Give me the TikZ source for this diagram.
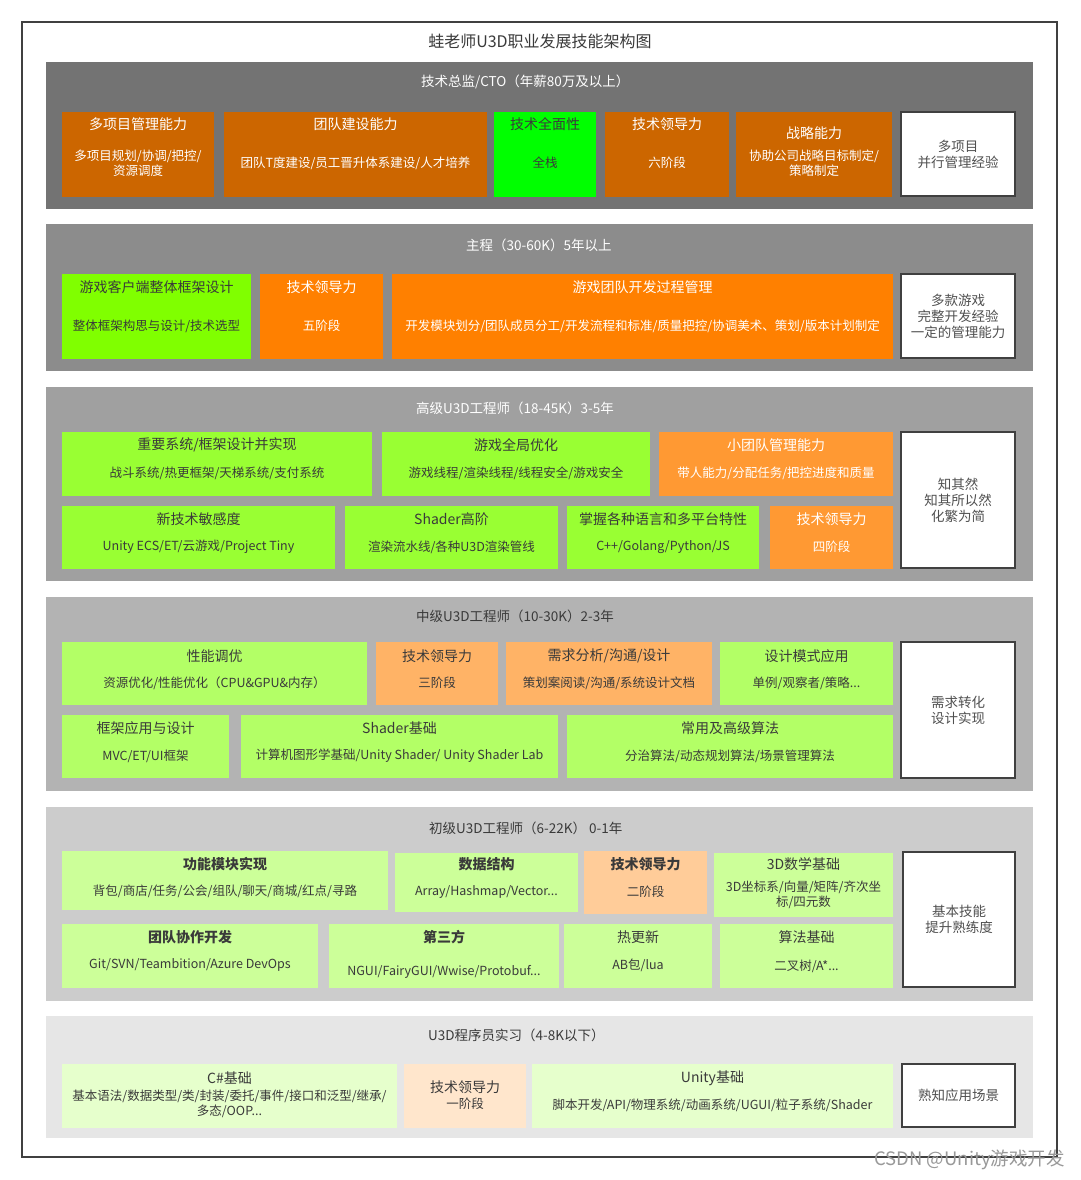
\documentclass[tikz,border=0pt]{standalone}
\usepackage{fontspec}
\setmainfont{Noto Sans CJK SC}
\usetikzlibrary{calc}
\definecolor{frm}{HTML}{404040}
\definecolor{dk}{HTML}{3A3A3A}
\definecolor{wtx}{HTML}{505050}
\definecolor{bandA}{HTML}{737373}
\definecolor{bandB}{HTML}{8C8C8C}
\definecolor{bandC}{HTML}{A0A0A0}
\definecolor{bandD}{HTML}{B3B3B3}
\definecolor{bandE}{HTML}{CCCCCC}
\definecolor{bandF}{HTML}{E6E6E6}
\definecolor{cBrown}{HTML}{CC6600}
\definecolor{cLime}{HTML}{00FF00}
\definecolor{cGreenB}{HTML}{80FF00}
\definecolor{cOrangeB}{HTML}{FF8000}
\definecolor{cGreenC}{HTML}{99FF33}
\definecolor{cOrangeC}{HTML}{FF9933}
\definecolor{cGreenD}{HTML}{B3FF66}
\definecolor{cOrangeD}{HTML}{FFB366}
\definecolor{cGreenE}{HTML}{CCFF99}
\definecolor{cOrangeE}{HTML}{FFCC99}
\definecolor{cGreenF}{HTML}{E6FFCC}
\definecolor{cOrangeF}{HTML}{FFE6CC}
\tikzset{
  bx/.style={rectangle, anchor=north west, inner sep=0pt, outer sep=0pt, draw=none},
  wbox/.style={rectangle, anchor=north west, inner sep=0pt, outer sep=0pt, fill=white, draw=frm, line width=1.5pt, align=center, text=wtx, font=\fontsize{13.5}{16}\selectfont},
  ttlw/.style={inner sep=0pt, align=center, text=white, font=\fontsize{14}{16}\selectfont},
  ttld/.style={inner sep=0pt, align=center, text=dk, font=\fontsize{14}{16}\selectfont},
  ttlb/.style={inner sep=0pt, align=center, text=dk, font=\bfseries\fontsize{14}{16}\selectfont},
  subw/.style={inner sep=0pt, align=center, text=white, font=\fontsize{12.5}{15}\selectfont},
  subd/.style={inner sep=0pt, align=center, text=dk, font=\fontsize{12.5}{15.5}\selectfont},
  tierw/.style={inner sep=0pt, anchor=west, text=white, font=\fontsize{13.5}{16}\selectfont},
  tierd/.style={inner sep=0pt, anchor=west, text=dk, font=\fontsize{13.5}{16}\selectfont},
}
\newcommand\skb[6]{\node[bx, fill=#6, minimum width={#4pt-#2pt}, minimum height={#5pt-#3pt}] (#1) at (#2,#3) {};}
\newcommand\skt[5]{\node[#4] (#1) at (#2.north |- 0,#3) {#5};}
\newcommand\skl[5]{\node[#4] (#1) at (#2,#3) {#5};}
\newcommand\skw[6]{\node[wbox, minimum width={#4pt-#2pt}, minimum height={#5pt-#3pt}] (#1) at (#2,#3) {#6};}
\begin{document}
\begin{tikzpicture}[x=1pt,y=-1pt]
\useasboundingbox (0,0) rectangle (1080,1180);
\fill[white] (0,0) rectangle (1080,1180);
\draw[frm, line width=1.6pt] (22,22) rectangle (1057,1157);
\node[inner sep=0pt, text=dk, font=\fontsize{16}{18}\selectfont] (title) at (540,41) {蛙老师U3D职业发展技能架构图};

% ---- Tier 1
\skb{t1}{46}{62}{1033}{209}{bandA}
\skl{t1l}{421}{82}{tierw}{技术总监/CTO（年薪80万及以上）}
\skb{a1}{62}{112}{214}{197}{cBrown}
\skt{a1t}{a1}{124}{ttlw}{多项目管理能力}
\skt{a1s}{a1}{163.5}{subw}{多项目规划/协调/把控/\\资源调度}
\skb{a2}{224}{112}{487}{197}{cBrown}
\skt{a2t}{a2}{124}{ttlw}{团队建设能力}
\skt{a2s}{a2}{163}{subw}{团队T度建设/员工晋升体系建设/人才培养}
\skb{a3}{494}{112}{596}{197}{cLime}
\skt{a3t}{a3}{124}{ttld}{技术全面性}
\skt{a3s}{a3}{163}{subd}{全栈}
\skb{a4}{605}{112}{729}{197}{cBrown}
\skt{a4t}{a4}{124}{ttlw}{技术领导力}
\skt{a4s}{a4}{163}{subw}{六阶段}
\skb{a5}{736}{112}{892}{197}{cBrown}
\skt{a5t}{a5}{133}{ttlw}{战略能力}
\skt{a5s}{a5}{163.5}{subw}{协助公司战略目标制定/\\策略制定}
\skw{w1}{901}{112}{1015}{196}{多项目\\并行管理经验}

% ---- Tier 2
\skb{t2}{46}{224}{1033}{371}{bandB}
\skl{t2l}{466}{245}{tierw}{主程（30-60K）5年以上}
\skb{b1}{62}{274}{251}{359}{cGreenB}
\skt{b1t}{b1}{287}{ttld}{游戏客户端整体框架设计}
\skt{b1s}{b1}{326}{subd}{整体框架构思与设计/技术选型}
\skb{b2}{260}{274}{383}{359}{cOrangeB}
\skt{b2t}{b2}{287}{ttlw}{技术领导力}
\skt{b2s}{b2}{326}{subw}{五阶段}
\skb{b3}{392}{274}{893}{359}{cOrangeB}
\skt{b3t}{b3}{287}{ttlw}{游戏团队开发过程管理}
\skt{b3s}{b3}{326}{subw}{开发模块划分/团队成员分工/开发流程和标准/质量把控/协调美术、策划/版本计划制定}
\skw{w2}{901}{274}{1015}{358}{多款游戏\\完整开发经验\\一定的管理能力}

% ---- Tier 3
\skb{t3}{46}{387}{1033}{581}{bandC}
\skl{t3l}{416}{408}{tierw}{高级U3D工程师（18-45K）3-5年}
\skb{c1}{62}{432}{372}{496}{cGreenC}
\skt{c1t}{c1}{445}{ttld}{重要系统/框架设计并实现}
\skt{c1s}{c1}{473}{subd}{战斗系统/热更框架/天梯系统/支付系统}
\skb{c2}{382}{432}{650}{496}{cGreenC}
\skt{c2t}{c2}{445}{ttld}{游戏全局优化}
\skt{c2s}{c2}{473}{subd}{游戏线程/渲染线程/线程安全/游戏安全}
\skb{c3}{659}{432}{893}{496}{cOrangeC}
\skt{c3t}{c3}{445}{ttlw}{小团队管理能力}
\skt{c3s}{c3}{473}{subw}{带人能力/分配任务/把控进度和质量}
\skb{c4}{62}{506}{335}{569}{cGreenC}
\skt{c4t}{c4}{519}{ttld}{新技术敏感度}
\skt{c4s}{c4}{547}{subd}{Unity ECS/ET/云游戏/Project Tiny}
\skb{c5}{345}{506}{558}{569}{cGreenC}
\skt{c5t}{c5}{519}{ttld}{Shader高阶}
\skt{c5s}{c5}{547}{subd}{渲染流水线/各种U3D渲染管线}
\skb{c6}{567}{506}{759}{569}{cGreenC}
\skt{c6t}{c6}{519}{ttld}{掌握各种语言和多平台特性}
\skt{c6s}{c6}{547}{subd}{C++/Golang/Python/JS}
\skb{c7}{770}{506}{893}{569}{cOrangeC}
\skt{c7t}{c7}{519}{ttlw}{技术领导力}
\skt{c7s}{c7}{547}{subw}{四阶段}
\skw{w3}{901}{432}{1015}{568}{知其然\\知其所以然\\化繁为简}

% ---- Tier 4
\skb{t4}{46}{597}{1033}{791}{bandD}
\skl{t4l}{416}{616}{tierd}{中级U3D工程师（10-30K）2-3年}
\skb{d1}{62}{642}{367}{705}{cGreenD}
\skt{d1t}{d1}{656}{ttld}{性能调优}
\skt{d1s}{d1}{683}{subd}{资源优化/性能优化（CPU\&GPU\&内存）}
\skb{d2}{376}{642}{498}{705}{cOrangeD}
\skt{d2t}{d2}{656}{ttld}{技术领导力}
\skt{d2s}{d2}{683}{subd}{三阶段}
\skb{d3}{506}{642}{712}{705}{cOrangeD}
\skt{d3t}{d3}{656}{ttld}{需求分析/沟通/设计}
\skt{d3s}{d3}{683}{subd}{策划案阅读/沟通/系统设计文档}
\skb{d4}{720}{642}{893}{705}{cGreenD}
\skt{d4t}{d4}{656}{ttld}{设计模式应用}
\skt{d4s}{d4}{683}{subd}{单例/观察者/策略...}
\skb{d5}{62}{715}{229}{778}{cGreenD}
\skt{d5t}{d5}{728}{ttld}{框架应用与设计}
\skt{d5s}{d5}{756}{subd}{MVC/ET/UI框架}
\skb{d6}{241}{715}{558}{778}{cGreenD}
\skt{d6t}{d6}{728}{ttld}{Shader基础}
\skt{d6s}{d6}{756}{subd}{计算机图形学基础/Unity Shader/ Unity Shader Lab}
\skb{d7}{567}{715}{893}{778}{cGreenD}
\skt{d7t}{d7}{728}{ttld}{常用及高级算法}
\skt{d7s}{d7}{756}{subd}{分治算法/动态规划算法/场景管理算法}
\skw{w4}{901}{642}{1015}{778}{需求转化\\设计实现}

% ---- Tier 5
\skb{t5}{46}{807}{1033}{1001}{bandE}
\skl{t5l}{429}{828}{tierd}{初级U3D工程师（6-22K） 0-1年}
\skb{e1}{62}{851}{388}{910}{cGreenE}
\skt{e1t}{e1}{864}{ttlb}{功能模块实现}
\skt{e1s}{e1}{891}{subd}{背包/商店/任务/公会/组队/聊天/商城/红点/寻路}
\skb{e2}{395}{853}{578}{912}{cGreenE}
\skt{e2t}{e2}{864}{ttlb}{数据结构}
\skt{e2s}{e2}{892}{subd}{Array/Hashmap/Vector...}
\skb{e3}{584}{851}{707}{914}{cOrangeE}
\skt{e3t}{e3}{864}{ttlb}{技术领导力}
\skt{e3s}{e3}{892}{subd}{二阶段}
\skb{e4}{714}{853}{893}{917}{cGreenE}
\skt{e4t}{e4}{864}{ttld}{3D数学基础}
\skt{e4s}{e4}{895}{subd}{3D坐标系/向量/矩阵/齐次坐\\标/四元数}
\skb{e5}{62}{924}{318}{988}{cGreenE}
\skt{e5t}{e5}{937}{ttlb}{团队协作开发}
\skt{e5s}{e5}{965}{subd}{Git/SVN/Teambition/Azure DevOps}
\skb{e6}{329}{924}{559}{988}{cGreenE}
\skt{e6t}{e6}{937}{ttlb}{第三方}
\skt{e6s}{e6}{972}{subd}{NGUI/FairyGUI/Wwise/Protobuf...}
\skb{e7}{564}{924}{712}{988}{cGreenE}
\skt{e7t}{e7}{937}{ttld}{热更新}
\skt{e7s}{e7}{965}{subd}{AB包/lua}
\skb{e8}{720}{924}{893}{988}{cGreenE}
\skt{e8t}{e8}{937}{ttld}{算法基础}
\skt{e8s}{e8}{966}{subd}{二叉树/A*...}
\skw{w5}{903}{852}{1015}{987}{基本技能\\提升熟练度}

% ---- Tier 6
\skb{t6}{46}{1016}{1033}{1138}{bandF}
\skl{t6l}{428}{1035}{tierd}{U3D程序员实习（4-8K以下）}
\skb{f1}{62}{1064}{397}{1128}{cGreenF}
\skt{f1t}{f1}{1078}{ttld}{C\#基础}
\skt{f1s}{f1}{1104}{subd}{基本语法/数据类型/类/封装/委托/事件/接口和泛型/继承/\\多态/OOP...}
\skb{f2}{404}{1064}{526}{1128}{cOrangeF}
\skt{f2t}{f2}{1087}{ttld}{技术领导力}
\skt{f2s}{f2}{1104}{subd}{一阶段}
\skb{f3}{532}{1064}{893}{1128}{cGreenF}
\skt{f3t}{f3}{1078}{ttld}{Unity基础}
\skt{f3s}{f3}{1105}{subd}{脚本开发/API/物理系统/动画系统/UGUI/粒子系统/Shader}
\skw{w6}{902}{1064}{1015}{1127}{熟知应用场景}

% ---- watermark
\node[anchor=east, inner sep=0pt, text=black!40, font=\fontsize{18.5}{20}\selectfont] (wm) at (1065,1160) {CSDN @Unity游戏开发};
\end{tikzpicture}
\end{document}
